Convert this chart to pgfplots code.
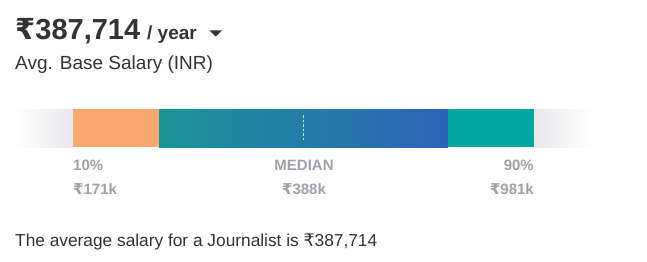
\documentclass[border=0pt]{standalone}
\usepackage{pgfplots}
\pgfplotsset{compat=1.18}
\usepackage{fontspec}
\setmainfont{Liberation Sans}
\newfontfamily\rup{DejaVu Sans}
\definecolor{orng}{HTML}{F8A76E}
\definecolor{gradL}{HTML}{1A9699}
\definecolor{gradR}{HTML}{2D63B8}
\definecolor{tealR}{HTML}{00A8A0}
\definecolor{fadeg}{HTML}{E8E8EB}
\definecolor{lblg}{HTML}{A19FAA}
\definecolor{txt}{HTML}{333333}
\newcommand{\R}{{\rup ₹}}
\begin{document}
\begin{tikzpicture}
\begin{axis}[
  width=647pt, height=262pt, scale only axis,
  xmin=0, xmax=647, ymin=0, ymax=262, y dir=reverse,
  hide axis, clip=false]
% grey fade left
\addplot[draw=none, left color=white, right color=fadeg] coordinates {(15,109) (73,109) (73,147) (15,147)} -- cycle;
% 10th percentile to 25th
\addplot[draw=none, fill=orng] coordinates {(73,109) (159,109) (159,147) (73,147)} -- cycle;
% middle gradient
\addplot[draw=none, left color=gradL, right color=gradR] coordinates {(159,109) (448,109) (448,147) (159,147)} -- cycle;
% right teal
\addplot[draw=none, fill=tealR] coordinates {(448,109) (534,109) (534,147) (448,147)} -- cycle;
% grey fade right
\addplot[draw=none, left color=fadeg, right color=white] coordinates {(534,109) (592,109) (592,147) (534,147)} -- cycle;
% median marker
\addplot[white, line width=1.2pt, dash pattern=on 2.5pt off 2pt, opacity=0.75] coordinates {(303.5,115) (303.5,140)};
% texts
\node[anchor=base west, inner sep=0, font=\fontsize{29}{29}\selectfont\bfseries, text=txt] at (axis cs:15,40) {\R387,714};
\node[anchor=base west, inner sep=0, font=\fontsize{19}{19}\selectfont\bfseries, text=txt] at (axis cs:147,40) {/ year};
\fill[txt] (axis cs:209.5,30.5) -- (axis cs:222,30.5) -- (axis cs:215.75,36.5) -- cycle;
\node[anchor=base west, inner sep=0, font=\fontsize{19}{19}\selectfont, text=txt] at (axis cs:15,70) {Avg. Base Salary (INR)};
\node[anchor=base west, inner sep=0, font=\fontsize{15}{15}\selectfont\bfseries, text=lblg] at (axis cs:73,170) {10\%};
\node[anchor=base west, inner sep=0, font=\fontsize{15}{15}\selectfont\bfseries, text=lblg] at (axis cs:73,194) {\R171k};
\node[anchor=base, inner sep=0, font=\fontsize{15}{15}\selectfont\bfseries, text=lblg] at (axis cs:304,170) {MEDIAN};
\node[anchor=base, inner sep=0, font=\fontsize{15}{15}\selectfont\bfseries, text=lblg] at (axis cs:304,194) {\R388k};
\node[anchor=base east, inner sep=0, font=\fontsize{15}{15}\selectfont\bfseries, text=lblg] at (axis cs:534,170) {90\%};
\node[anchor=base east, inner sep=0, font=\fontsize{15}{15}\selectfont\bfseries, text=lblg] at (axis cs:534,194) {\R981k};
\node[anchor=base west, inner sep=0, font=\fontsize{17.3}{17.3}\selectfont, text=txt] at (axis cs:15,246) {The average salary for a Journalist is \R387,714};
\end{axis}
\pgfresetboundingbox
\path (current axis.south west) rectangle (current axis.north east);
\end{tikzpicture}
\end{document}
